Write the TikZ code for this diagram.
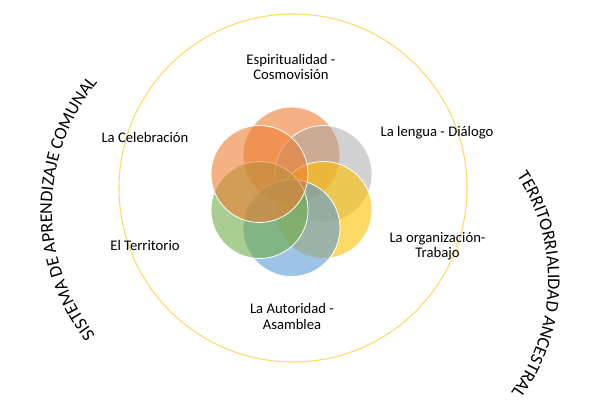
\documentclass[tikz,border=0pt]{standalone}
\usepackage{fontspec}
\setmainfont{Carlito}
\usetikzlibrary{decorations.text}
\definecolor{ringgold}{HTML}{FFD966}
\definecolor{petalorange}{HTML}{ED7D31}
\definecolor{petalgray}{HTML}{A5A5A5}
\definecolor{petalgold}{HTML}{FFC000}
\definecolor{petalblue}{HTML}{5B9BD5}
\definecolor{petalgreen}{HTML}{70AD47}
\begin{document}
\begin{tikzpicture}[x=0.75pt, y=0.75pt,
    petal/.style={fill opacity=0.6, draw=white, line width=0.6pt},
    label/.style={align=center, inner sep=0pt, font=\fontsize{11}{11.5}\selectfont}]
    \useasboundingbox (0,0) rectangle (589,407);
    \coordinate (O) at (293,219);
    \coordinate (Top) at (291.5,251.5);
    \coordinate (UpRight) at (323.5,233);
    \coordinate (DownRight) at (323.5,197);
    \coordinate (Bottom) at (291.5,179);
    \coordinate (DownLeft) at (259.5,197);
    \coordinate (UpLeft) at (259.5,233);
    \coordinate (LeftArc) at (254,197);
    \coordinate (RightArc) at (358,127);

    \draw[ringgold, line width=0.8pt] (O) circle[radius=174];

    \filldraw[petal, fill=petalorange] (Top) circle[radius=48.5];
    \filldraw[petal, fill=petalgray, fill opacity=0.5] (UpRight) circle[radius=48.5];
    \filldraw[petal, fill=petalgold] (DownRight) circle[radius=48.5];
    \filldraw[petal, fill=petalblue] (Bottom) circle[radius=48.5];
    \filldraw[petal, fill=petalgreen] (DownLeft) circle[radius=48.5];
    \filldraw[petal, fill=petalorange] (UpLeft) circle[radius=48.5];

    \node[label] (espiritualidad) at (291,340) {Espiritualidad -\\Cosmovisión};
    \node[label] (lengua) at (437,274) {La lengua - Diálogo};
    \node[label] (organizacion) at (437.5,161) {La organización-\\Trabajo};
    \node[label] (autoridad) at (292,90.5) {La Autoridad -\\Asamblea};
    \node[label] (territorio) at (145,162) {El Territorio};
    \node[label] (celebracion) at (145,270) {La Celebración};

    \path[decorate, decoration={text along path, text align=center,
        text={|\fontsize{13.5}{14}\selectfont|SISTEMA DE APRENDIZAJE COMUNAL}}]
        ([shift={(225:202)}]LeftArc) arc[start angle=225, end angle=134, radius=202];
    \path[decorate, decoration={text along path, text align=center,
        text={|\fontsize{13.5}{14}\selectfont|TERRITORRIALIDAD ANCESTRAL}}]
        ([shift={(40:190)}]RightArc) arc[start angle=40, end angle=-43, radius=190];
\end{tikzpicture}
\end{document}
